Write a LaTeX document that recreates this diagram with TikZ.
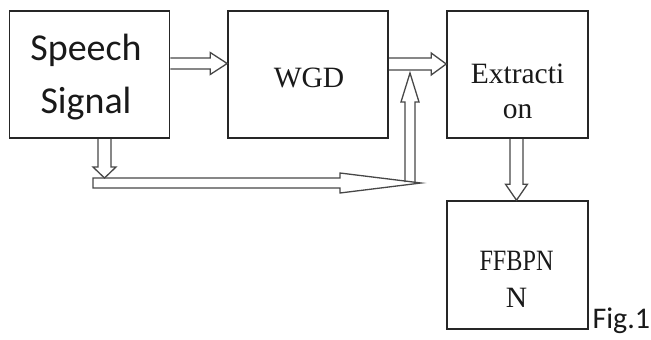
\documentclass[tikz,border=0pt]{standalone}
\usepackage{fontspec}
\setmainfont{Liberation Serif}
\newfontfamily\calfont{Carlito}
\usetikzlibrary{calc}
% horizontal hollow block arrow: start, tip, shaft half-width, head half-width, head length, closing
\newcommand\hblk[6]{\draw[blk] ($(#1)+(0,-#3)$) -- ($(#2)+({-(#5)},-#3)$) -- ($(#2)+({-(#5)},-#4)$) -- (#2) -- ($(#2)+({-(#5)},#4)$) -- ($(#2)+({-(#5)},#3)$) -- ($(#1)+(0,#3)$) #6;}
% vertical hollow block arrow
\newcommand\vblk[6]{\draw[blk] ($(#1)+(-#3,0)$) -- ($(#2)+(-#3,{-(#5)})$) -- ($(#2)+(-#4,{-(#5)})$) -- (#2) -- ($(#2)+(#4,{-(#5)})$) -- ($(#2)+(#3,{-(#5)})$) -- ($(#1)+(#3,0)$) #6;}
\begin{document}
\begin{tikzpicture}[x=1pt,y=-1pt,
  box/.style={draw=black!85, line width=1.6pt, rectangle, inner sep=0pt},
  blk/.style={draw=black!72, line width=1.3pt, line join=miter},
  sertext/.style={font=\fontsize{29.5}{35}\selectfont, text=black!90, align=center, anchor=base, inner sep=0pt},
  caltext/.style={font=\calfont\fontsize{38}{53}\selectfont, text=black!90, align=center, anchor=base, inner sep=0pt}]
\useasboundingbox (0,0) rectangle (651,340);
\node[box, minimum width=160pt, minimum height=127pt] (sp) at (89.5,74.5) {};
\node[box, minimum width=160pt, minimum height=127pt] (wgd) at (308,74.5) {};
\node[box, minimum width=141pt, minimum height=127pt] (ex) at (517.5,74.5) {};
\node[box, minimum width=141pt, minimum height=128pt] (ff) at (517.5,265) {};
% texts (base anchor = baseline of last line)
\node[caltext] (spt) at ($(sp.center)+(-3.5,38.5)$) {Speech\\Signal};
\node[sertext] (wgdt) at ($(wgd.center)+(1,12.5)$) {WGD};
\node[sertext] (ext) at ($(ex.center)+(0,43.5)$) {Extracti\\on};
\node[sertext, font=\fontsize{29.5}{37}\selectfont] (fft) at ($(ff.center)+(-1,42)$) {\scalebox{0.82}[1]{FFBPN}\\N};
\node[font=\calfont\fontsize{30}{36}\selectfont, anchor=base west, inner sep=0pt, text=black!90] (fig) at ($(ff.south east)+(3.5,-1)$) {Fig.1};
% arrows
\coordinate (a1s) at ($(sp.east)+(0,-11)$);
\coordinate (a1e) at (a1s -| wgd.west);
\hblk{a1s}{a1e}{5.5}{11}{17}{}
\coordinate (a2s) at ($(wgd.east)+(0,-10.5)$);
\coordinate (a2e) at (a2s -| ex.west);
\hblk{a2s}{a2e}{6}{11}{15}{}
\coordinate (bus) at (93,183);
\coordinate (busend) at (421,183);
\hblk{bus}{busend}{5}{10}{81}{-- cycle}
\coordinate (a3s) at ($(sp.south)+(15,0)$);
\coordinate (a3t) at ($(bus)+(0,-5)$);
\coordinate (a3e) at (a3s |- a3t);
\vblk{a3s}{a3e}{6.5}{11.5}{11}{}
\coordinate (a5s) at ($(busend)+(-11,-1)$);
\coordinate (a5e) at ($(a5s |- a2s)+(0,9)$);
\vblk{a5s}{a5e}{5}{9}{-29}{}
\coordinate (a6s) at ($(ex.south)+(-1,0)$);
\coordinate (a6e) at (a6s |- ff.north);
\vblk{a6s}{a6e}{6.5}{11}{16}{}
\end{tikzpicture}
\end{document}
